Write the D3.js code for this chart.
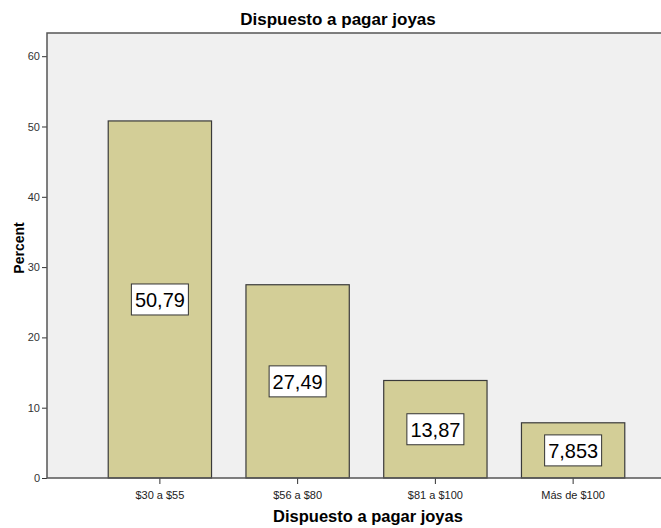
<!DOCTYPE html>
<html>
<head>
<meta charset="utf-8">
<script src="https://cdn.jsdelivr.net/npm/d3@7"></script>
<style>
  body { margin: 0; background: #fff; }
  svg { display: block; font-family: "Liberation Sans", Arial, sans-serif; }
</style>
</head>
<body>
<svg width="661" height="528"></svg>
<script>
// datos del grafico
const categories = ["$30 a $55", "$56 a $80", "$81 a $100", "Más de $100"];
const percents = [50.79, 27.49, 13.87, 7.853];
const labels = ["50,79", "27,49", "13,87", "7,853"];
const yTicks = [0, 10, 20, 30, 40, 50, 60];

const svg = d3.select("svg");
const width = +svg.attr("width");

// area de trazado
const plotLeft = 47, plotTop = 33, plotBottom = 478, plotRight = width;

const x = d3.scaleBand()
    .domain(categories)
    .range([91, 642])
    .paddingInner(0.25)
    .paddingOuter(0.125);

const y = d3.scaleLinear()
    .domain([0, 63.3])
    .range([plotBottom, plotTop]);

// fondo
svg.append("rect")
    .attr("x", plotLeft).attr("y", plotTop)
    .attr("width", plotRight - plotLeft).attr("height", plotBottom - plotTop)
    .attr("fill", "#f0f0f0");

// barras
svg.selectAll(".bar")
    .data(percents)
    .join("rect")
    .attr("class", "bar")
    .attr("x", (d, i) => x(categories[i]))
    .attr("y", d => y(d))
    .attr("width", x.bandwidth())
    .attr("height", d => plotBottom - y(d))
    .attr("fill", "#d3ce97")
    .attr("stroke", "#3a3a3a")
    .attr("stroke-width", 1.2);

// etiquetas con recuadro
const lab = svg.selectAll(".lab")
    .data(percents)
    .join("g")
    .attr("class", "lab")
    .attr("transform", (d, i) =>
        `translate(${x(categories[i]) + x.bandwidth() / 2}, ${(y(d) + plotBottom) / 2})`);

lab.append("rect")
    .attr("x", -28.5).attr("y", -15.5)
    .attr("width", 57).attr("height", 31)
    .attr("fill", "#fff")
    .attr("stroke", "#333")
    .attr("stroke-width", 1);

lab.append("text")
    .attr("text-anchor", "middle")
    .attr("dy", "0.37em")
    .attr("font-size", 21)
    .attr("textLength", 50)
    .attr("lengthAdjust", "spacingAndGlyphs")
    .attr("fill", "#000")
    .text((d, i) => labels[i]);

// eje y
const yAxis = svg.append("g")
    .attr("transform", `translate(${plotLeft},0)`)
    .call(d3.axisLeft(y).tickValues(yTicks).tickSize(5).tickPadding(2));
yAxis.select(".domain").remove();
yAxis.selectAll("line").attr("stroke", "#333");
yAxis.selectAll("text").attr("font-size", 11).attr("fill", "#333")
    .attr("font-family", "Liberation Sans, Arial, sans-serif");

// eje x
const xAxis = svg.append("g")
    .attr("transform", `translate(0,${plotBottom})`)
    .call(d3.axisBottom(x).tickSize(6).tickPadding(7));
xAxis.select(".domain").remove();
xAxis.selectAll("line").attr("stroke", "#333");
xAxis.selectAll("text").attr("font-size", 11).attr("fill", "#222")
    .attr("font-family", "Liberation Sans, Arial, sans-serif");

// bordes
svg.append("path")
    .attr("d", `M${plotRight},${plotTop}H${plotLeft}V${plotBottom}H${plotRight}`)
    .attr("fill", "none")
    .attr("stroke", "#555")
    .attr("stroke-width", 1.5);

// titulos
svg.append("text")
    .attr("x", 338).attr("y", 25)
    .attr("text-anchor", "middle")
    .attr("font-size", 17)
    .attr("font-weight", "bold")
    .text("Dispuesto a pagar joyas");

svg.append("text")
    .attr("x", 368).attr("y", 522)
    .attr("text-anchor", "middle")
    .attr("font-size", 16.5)
    .attr("font-weight", "bold")
    .text("Dispuesto a pagar joyas");

svg.append("text")
    .attr("transform", `translate(24, 248) rotate(-90)`)
    .attr("text-anchor", "middle")
    .attr("font-size", 14)
    .attr("font-weight", "bold")
    .text("Percent");
</script>
</body>
</html>
